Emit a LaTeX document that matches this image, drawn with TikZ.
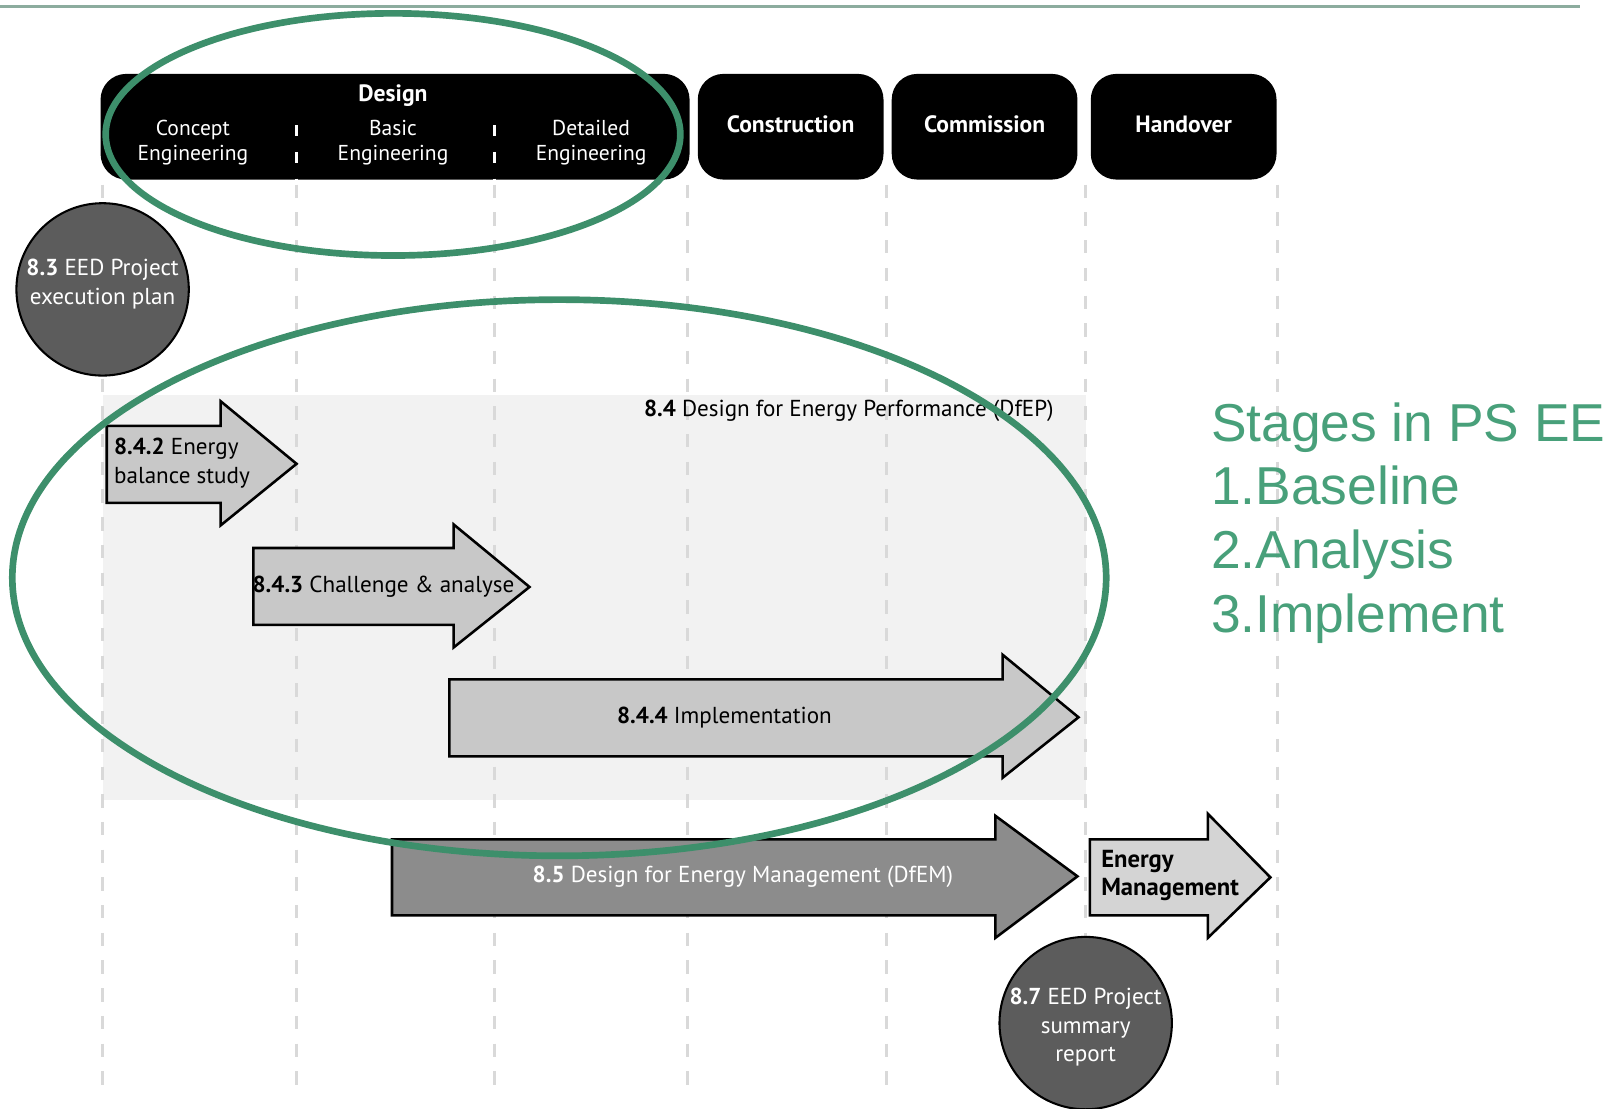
\documentclass[tikz,border=0pt]{standalone}
\usepackage{fontspec}
\setmainfont{PT Sans}
\newfontfamily\arialf{Liberation Sans}
\definecolor{eegreen}{RGB}{61,143,107}
\definecolor{txtgreen}{RGB}{72,160,122}
\definecolor{bggrey}{RGB}{242,242,242}
\definecolor{dashgrey}{RGB}{217,217,217}
\definecolor{circfill}{RGB}{92,92,92}
\definecolor{arrfill}{RGB}{200,200,200}
\definecolor{darkarr}{RGB}{140,140,140}
\definecolor{emfill}{RGB}{212,212,212}
\definecolor{topline}{RGB}{140,172,158}
\tikzset{
  phasebox/.style={fill=black, rounded corners=25pt, inner sep=0pt},
  phasetext/.style={text=white, font=\fontsize{23}{26}\selectfont\bfseries, inner sep=0pt},
  subtext/.style={text=white, align=center, font=\fontsize{21}{25}\selectfont, inner sep=0pt},
  vline/.style={draw=dashgrey, line width=3pt, dash pattern=on 13pt off 14pt},
  wtick/.style={draw=white, line width=3pt, dash pattern=on 11pt off 15pt},
  blockarrow/.style={draw=black, line width=2.5pt, line join=miter},
  lbl/.style={font=\fontsize{22.5}{28}\selectfont, inner sep=0pt, align=left},
  milestone/.style={circle, draw=black, line width=2pt, fill=circfill, minimum size=168pt, inner sep=0pt},
  mstext/.style={text=white, align=center, inner sep=0pt, font=\fontsize{22.5}{28}\selectfont},
  ring/.style={draw=eegreen, line width=6.5pt},
  stagetext/.style={anchor=base west, text=txtgreen, inner sep=0pt, font=\arialf\fontsize{52}{62}\selectfont},
}
\begin{document}
\begin{tikzpicture}[x=1pt,y=-1pt]
\useasboundingbox (0,0) rectangle (1568,1080);
% top line
\draw[topline, line width=3pt] (0,6) -- (1540,6);
% background of 8.4
\fill[bggrey] (100,385) rectangle (1058,780);
% dashed guide lines
\foreach \gx in {100,289,482,670,864,1058,1245}{
  \draw[vline] (\gx,180) -- (\gx,1062);
}
% phase boxes
\node[phasebox, minimum width=574pt, minimum height=103pt] (design) at (385,123.5) {};
\node[phasebox, minimum width=181pt, minimum height=103pt] (constr) at (770.5,123.5) {};
\node[phasebox, minimum width=181pt, minimum height=103pt] (commis) at (959.5,123.5) {};
\node[phasebox, minimum width=181pt, minimum height=103pt] (handov) at (1153.5,123.5) {};
\node[phasetext] (designlbl) at (383,93) {Design};
\node[subtext] (concept) at (188,139) {Concept\\Engineering};
\node[subtext] (basic) at (383,139) {Basic\\Engineering};
\node[subtext] (detailed) at (576,139) {Detailed\\Engineering};
\node[phasetext] (constrlbl) at (770.5,121) {Construction};
\node[phasetext] (commislbl) at (959.5,121) {Commission};
\node[phasetext] (handovlbl) at (1153.5,121) {Handover};
\draw[wtick] (289,122) -- (289,176);
\draw[wtick] (482,122) -- (482,176);
% 8.4 label
\node[lbl, anchor=east] (dfep) at (1027,400) {\textbf{8.4} Design for Energy Performance (DfEP)};
% block arrows
\draw[blockarrow, fill=arrfill] (104,415) -- (215,415) -- (215,391) -- (289,452) -- (215,512) -- (215,490) -- (104,490) -- cycle;
\node[lbl, anchor=west] (ebs) at (111,451) {\textbf{8.4.2} Energy\\balance study};
\draw[blockarrow, fill=arrfill] (247,534) -- (442,534) -- (442,511) -- (516,572) -- (442,631) -- (442,609) -- (247,609) -- cycle;
\node[lbl, anchor=west] (chal) at (246,572) {\textbf{8.4.3} Challenge \& analyse};
\draw[blockarrow, fill=arrfill] (438,662) -- (977,662) -- (977,638) -- (1051,699) -- (977,758) -- (977,737) -- (438,737) -- cycle;
\node[lbl] (impl) at (706,699) {\textbf{8.4.4} Implementation};
\draw[blockarrow, fill=darkarr] (382,818) -- (970,818) -- (970,795) -- (1050,854) -- (970,914) -- (970,892) -- (382,892) -- cycle;
\node[lbl, text=white] (dfem) at (724,854) {\textbf{8.5} Design for Energy Management (DfEM)};
\draw[blockarrow, fill=emfill] (1062,818) -- (1177,818) -- (1177,793) -- (1238,855) -- (1177,914) -- (1177,892) -- (1062,892) -- cycle;
\node[lbl, anchor=west, font=\fontsize{24}{27}\selectfont\bfseries] (em) at (1073,853) {Energy\\Management};
% milestones
\node[milestone] (m83) at (100,282) {};
\node[mstext] (m83lbl) at (100,277) {\textbf{8.3} EED Project\\execution plan};
\node[milestone] (m87) at (1058,997) {};
\node[mstext] (m87lbl) at (1058,1001) {\textbf{8.7} EED Project\\summary\\report};
% green rings
\draw[ring] (383,131) ellipse [x radius=280, y radius=118];
\draw[ring] (545,563) ellipse [x radius=533, y radius=271];
% stages text
\node[stagetext] (stg0) at (1180,430) {Stages in PS EED};
\node[stagetext] (stg1) at (1180,492) {1.Baseline};
\node[stagetext] (stg2) at (1180,554) {2.Analysis};
\node[stagetext] (stg3) at (1180,616) {3.Implement};
\end{tikzpicture}
\end{document}
